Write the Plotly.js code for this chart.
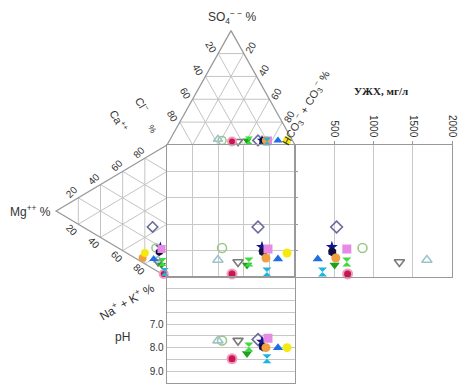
<!DOCTYPE html>
<html><head><meta charset="utf-8">
<script src="https://cdn.plot.ly/plotly-3.0.1.min.js"></script>
<style>html,body{margin:0;padding:0;background:#fff}#c{width:458px;height:386px}</style>
</head><body><div id="c"></div>
<script>
// ---- data (percent-equivalents, mg/l, pH) ----
const symbols = ['diamond-open','circle-open','triangle-up-open','triangle-down-open','triangle-down','hourglass','circle','star','hexagon','square','circle','triangle-up','circle','hourglass'];
const colors  = ['#6b6b9b','#9cc98a','#9cc4cc','#7a7a7a','#1fa01f','#3ddc3d','#c8174f','#14148c','#101040','#e58be5','#f0a040','#1e6ee6','#f5ea10','#1cb4e0'];
const so4  = [4, 4, 5, 3, 4, 4, 3, 4, 4, 4, 4, 4, 4, 3];
const hco3 = [69.1, 41, 37.3, 54, 60.5, 62, 49.3, 72.2, 73, 76.9, 75.3, 84.7, 91.8, 76.6];
const ca   = [31.4, 17, 8.9, 7.4, 6.6, 9.4, 0.8, 19.7, 15.4, 18.7, 3.4, 7.6, 8.2, 2.8];
const mg   = [13, 10, 8, 8, 5, 4, 3, 6, 7, 5, 22, 12, 20, 2];
const tds  = [530, 860, 1680, 1330, 505, 660, 670, 470, 475, 660, 520, 290, null, 350];
const ph   = [7.65, 7.7, 7.7, 7.7, 8.25, 7.97, 8.47, 7.75, 7.97, 7.6, 8.0, 8.0, 8.0, 8.47];
const gridTicks = [20, 40, 60, 80];
const tdsTicks = [500, 1000, 1500, 2000];
const phTicks = [7, 8, 9];
const phText  = ['7.0', '8.0', '9.0'];

const H = Math.sqrt(3) / 2;
const W = 458, HT = 386;
const fx = px => px / W, fy = py => (HT - py) / HT;

// derived positions
const sqX = hco3.map((h, i) => h + so4[i] / 2);
const sqY = ca.map((c, i) => c + mg[i] / 2);
const topY = so4.map(s => 100 + s * H);
const leftX = mg.map(m => -m * H);

// triangle grids
const gx = [], gy = [];
function seg(a, b, c, d) { gx.push(a, c, null); gy.push(b, d, null); }
gridTicks.forEach(k => {
  // top triangle
  seg(k / 2, 100 + k * H, 100 - k / 2, 100 + k * H);             // SO4 = k
  seg(k, 100, k + (100 - k) / 2, 100 + (100 - k) * H);            // HCO3 = k
  seg(100 - k, 100, (100 - k) / 2, 100 + (100 - k) * H);          // Cl = k
  // left triangle
  seg(-k * H, k / 2, -k * H, 100 - k / 2);                        // Mg = k
  seg(0, k, -(100 - k) * H, k + (100 - k) / 2);                   // Ca = k
  seg(0, 100 - k, -(100 - k) * H, (100 - k) / 2);                 // Na = k
});
const ex = [0, 50, 100, null, 0, -100 * H, 0];
const ey = [100, 100 + 100 * H, 100, null, 100, 50, 0];

const mk = (sz) => ({
  symbol: symbols, color: colors, size: sz,
  line: { color: colors.map((c, i) => i === 6 ? '#f39ac0' : c),
          width: symbols.map((s, i) => s.endsWith('open') ? 1.6 : (i === 6 ? 2 : 0)) }
});

const traces = [
  { x: gx, y: gy, xaxis: 'x', yaxis: 'y', mode: 'lines', line: { color: '#c4c4c4', width: 1 }, hoverinfo: 'skip' },
  { x: ex, y: ey, xaxis: 'x', yaxis: 'y', mode: 'lines', line: { color: '#9a9a9a', width: 1.3 }, hoverinfo: 'skip' },
  { x: sqX, y: topY, xaxis: 'x', yaxis: 'y', mode: 'markers', marker: mk(8), cliponaxis: false },
  { x: leftX, y: sqY, xaxis: 'x', yaxis: 'y', mode: 'markers', marker: mk(8), cliponaxis: false },
  { x: sqX, y: sqY, xaxis: 'x2', yaxis: 'y2', mode: 'markers', marker: mk(9), cliponaxis: false },
  { x: tds, y: sqY, xaxis: 'x4', yaxis: 'y4', mode: 'markers', marker: mk(9), cliponaxis: false },
  { x: sqX, y: ph, xaxis: 'x3', yaxis: 'y3', mode: 'markers', marker: mk(9), cliponaxis: false }
];

const fnt = { family: 'Liberation Sans, Arial, sans-serif', size: 10, color: '#333' };
const ann = [];
const A = { showarrow: false, xanchor: 'center', yanchor: 'middle' };
gridTicks.forEach(k => {
  ann.push(Object.assign({ x: (100 - k) / 2, y: 100 + (100 - k) * H, xref: 'x', yref: 'y', text: String(k), textangle: 60, xshift: -7, yshift: 6, font: fnt }, A));
  ann.push(Object.assign({ x: 50 + k / 2, y: 100 + (100 - k) * H, xref: 'x', yref: 'y', text: String(k), textangle: -60, xshift: 7, yshift: 6, font: fnt }, A));
  ann.push(Object.assign({ x: -(100 - k) * H, y: 50 + k / 2, xref: 'x', yref: 'y', text: String(k), textangle: -45, xshift: -6, yshift: 6, font: fnt }, A));
  ann.push(Object.assign({ x: -(100 - k) * H, y: (100 - k) / 2, xref: 'x', yref: 'y', text: String(k), textangle: 45, xshift: -6, yshift: -6, font: fnt }, A));
});
const lf = { family: 'Liberation Sans, Arial, sans-serif', size: 12, color: '#333' };
function lab(px, py, text, ang, f) { ann.push(Object.assign({ x: fx(px), y: fy(py), xref: 'paper', yref: 'paper', text, textangle: ang || 0, font: f || lf }, A)); }
lab(232, 17, 'SO<sub>4</sub><sup>− −</sup> %');
lab(30, 211, 'Mg<sup>++</sup> %');
lab(127, 301, 'Na<sup>+</sup> + K<sup>+</sup> %', -30);
lab(122, 337, 'pH');
lab(306, 108, 'HCO<sub>3</sub><sup>−</sup> + CO<sub>3</sub><sup>−</sup> %', -60, { family: lf.family, size: 11, color: '#333' });
lab(119, 121, 'Ca<sup>++</sup>', 60, { family: lf.family, size: 11, color: '#333' });
lab(142, 104, 'Cl<sup>−</sup>', 60, { family: lf.family, size: 11, color: '#333' });
lab(152, 129, '%', 60, { family: lf.family, size: 9, color: '#333' });
lab(381, 91, '<b>УЖХ, мг/л</b>', 0, { family: 'Liberation Serif, Times New Roman, serif', size: 11, color: '#222' });

const box = { showline: true, mirror: true, linecolor: '#999', linewidth: 1.3, zeroline: false, fixedrange: true };
const layout = {
  width: W, height: HT, margin: { l: 0, r: 0, t: 0, b: 0 },
  paper_bgcolor: '#fff', plot_bgcolor: 'rgba(0,0,0,0)', showlegend: false,
  xaxis: { domain: [0, fx(295)], range: [-167 / 1.28, 100], visible: false, fixedrange: true },
  yaxis: { domain: [0, 1], range: [(277 - 386) / 1.32, 277 / 1.32], visible: false, fixedrange: true },
  xaxis2: Object.assign({}, box, { domain: [fx(167), fx(295)], range: [0, 100], anchor: 'y2', dtick: 20, showgrid: true, gridcolor: '#c8c8c8', showticklabels: false, ticks: '' }),
  yaxis2: Object.assign({}, box, { domain: [fy(277), fy(145)], range: [0, 100], anchor: 'x2', dtick: 20, showgrid: true, gridcolor: '#c8c8c8', showticklabels: false, ticks: '' }),
  xaxis3: Object.assign({}, box, { domain: [fx(167), fx(295)], range: [0, 100], anchor: 'y3', showgrid: false, showticklabels: false, ticks: '' }),
  yaxis3: Object.assign({}, box, { domain: [fy(383), fy(277)], range: [9.5, 5], anchor: 'x3', tickvals: phTicks, ticktext: phText, showgrid: true, gridcolor: '#c8c8c8', ticks: '', tickfont: fnt,
    minor: { tick0: 0, dtick: 0.5, showgrid: true, gridcolor: '#c8c8c8', ticks: '' } }),
  xaxis4: Object.assign({}, box, { domain: [fx(295), fx(452)], range: [0, 2000], anchor: 'y4', side: 'top', tickvals: tdsTicks, tickangle: 90, showgrid: true, gridcolor: '#c8c8c8', ticks: 'outside', ticklen: 3, tickcolor: '#999', tickfont: fnt }),
  yaxis4: Object.assign({}, box, { domain: [fy(277), fy(145)], range: [0, 100], anchor: 'x4', showgrid: false, showticklabels: false, ticks: 'inside', ticklen: 3, dtick: 20, tickcolor: '#999' }),
  annotations: ann
};
Plotly.newPlot('c', traces, layout, { staticPlot: true });
</script></body></html>
